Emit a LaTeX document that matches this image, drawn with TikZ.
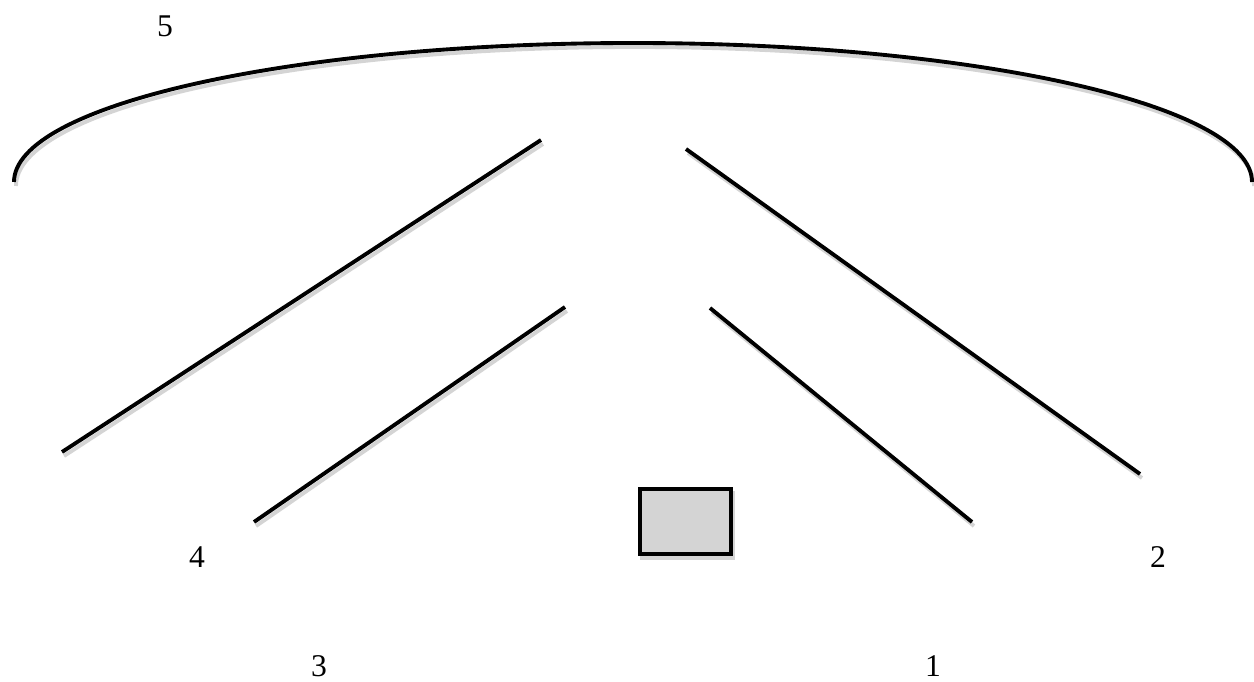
\documentclass[tikz,border=0pt]{standalone}
\usepackage{fontspec}
\setmainfont{Liberation Serif}
\tikzset{
  wall/.style={line width=2.2pt, preaction={draw=black!17, line width=2.2pt, transform canvas={shift={(2,4)}}}},
  num/.style={font=\fontsize{18}{20}\selectfont, inner sep=0pt},
}
\begin{document}
\begin{tikzpicture}[x=0.02cm,y=-0.02cm]
    \useasboundingbox (0,0) rectangle (1254,682);

        % roof
        \draw[wall] (14,182) arc[start angle=180, end angle=360, x radius=619, y radius=139];

        % outer pair
        \draw[wall] (62,452) -- (541,140);
        \draw[wall] (686,149) -- (1140,474);
        % inner pair
        \draw[wall] (254,522) -- (565,307);
        \draw[wall] (710,308) -- (972,522);

        \node[draw, wall, line width=2.4pt, fill=black!17, minimum width=1.82cm, minimum height=1.3cm] (src) at (685.5,521.5) {};

        \node[num] (n5) at (165,26) {5};
        \node[num] (n4) at (197,557) {4};
        \node[num] (n3) at (319,666) {3};
        \node[num] (n2) at (1158,557) {2};
        \node[num] (n1) at (933,666) {1};
    \end{tikzpicture}
\end{document}
